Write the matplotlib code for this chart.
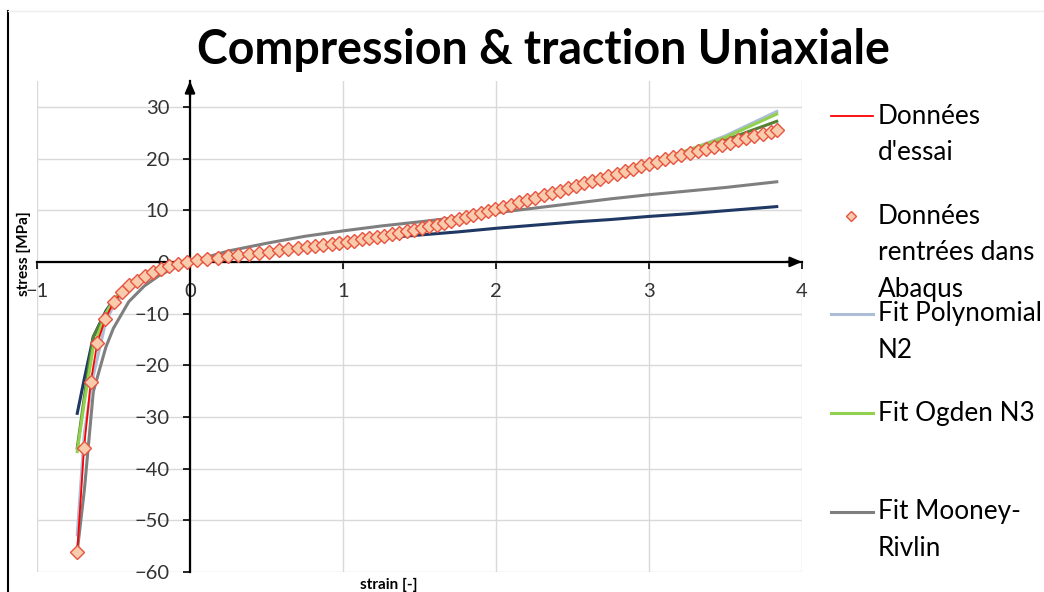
import matplotlib
matplotlib.use('Agg')
import matplotlib.pyplot as plt
from matplotlib.lines import Line2D

plt.rcParams['font.family'] = ['Lato', 'DejaVu Sans']

# ---------------- data ----------------
test_strain = [-0.737, -0.693, -0.649, -0.606, -0.553, -0.499, -0.444, -0.397, -0.349, -0.296,
               -0.244, -0.190, -0.135, -0.080, -0.020,
               0.044, 0.109, 0.185, 0.250, 0.316, 0.388, 0.453, 0.518, 0.584, 0.643,
               0.704, 0.762, 0.817, 0.871, 0.926, 0.976, 1.024, 1.074, 1.122, 1.172,
               1.220, 1.270, 1.318, 1.368, 1.416, 1.464, 1.514, 1.564, 1.612, 1.660,
               1.708, 1.756, 1.804, 1.852, 1.900, 1.948, 1.996, 2.046, 2.099, 2.152,
               2.205, 2.258, 2.311, 2.364, 2.417, 2.470, 2.523, 2.576, 2.629, 2.682,
               2.735, 2.788, 2.841, 2.894, 2.947, 3.000, 3.053, 3.106, 3.159, 3.212,
               3.265, 3.318, 3.371, 3.424, 3.477, 3.530, 3.583, 3.636, 3.689, 3.742,
               3.795, 3.835]
test_stress = [-56.1, -36.1, -23.3, -15.7, -11.0, -7.8, -5.9, -4.45, -3.6, -2.65,
               -2.0, -1.4, -0.85, -0.4, -0.08,
               0.35, 0.6, 0.85, 1.05, 1.25, 1.55, 1.8, 2.0, 2.25, 2.45,
               2.65, 2.85, 3.05, 3.25, 3.45, 3.65, 3.85, 4.1, 4.35, 4.6,
               4.85, 5.1, 5.35, 5.65, 5.9, 6.2, 6.5, 6.85, 7.2, 7.6,
               7.95, 8.35, 8.75, 9.15, 9.5, 9.9, 10.25, 10.65, 11.1, 11.55,
               12.0, 12.45, 12.9, 13.35, 13.8, 14.25, 14.7, 15.2, 15.65, 16.1,
               16.55, 17.0, 17.5, 17.95, 18.5, 19.0, 19.4, 19.85, 20.25, 20.7,
               21.1, 21.5, 21.9, 22.3, 22.7, 23.1, 23.5, 23.9, 24.3, 24.7,
               25.1, 25.5]

fit_strain = [-0.737, -0.69, -0.632, -0.55, -0.5, -0.4, -0.3, -0.2, -0.1, 0.0,
              0.25, 0.5, 0.75, 1.0, 1.25, 1.5, 1.75, 2.0, 2.25, 2.5,
              2.75, 3.0, 3.25, 3.5, 3.835]
fit_poly_n2 = [-52.8, -33.0, -22.0, -11.5, -8.5, -5.0, -3.1, -1.7, -0.7, 0.0,
               1.0, 1.9, 2.7, 3.55, 4.6, 5.9, 7.7, 9.7, 11.8, 14.1,
               16.4, 18.9, 21.5, 24.4, 29.1]
fit_ogden_n3 = [-36.7, -27.0, -16.5, -10.0, -7.5, -4.4, -2.7, -1.5, -0.6, 0.0,
                1.0, 1.95, 2.7, 3.5, 4.6, 6.0, 7.8, 9.8, 11.9, 14.2,
                16.5, 18.9, 21.6, 24.1, 28.6]
fit_ogden_other = [-36.0, -26.0, -14.5, -9.8, -7.4, -4.4, -2.7, -1.5, -0.6, 0.0,
                   1.0, 1.95, 2.7, 3.5, 4.6, 6.0, 7.8, 9.8, 11.9, 14.2,
                   16.5, 18.8, 21.2, 23.6, 27.2]
fit_neo_hooke = [-29.3, -22.5, -14.5, -9.5, -7.4, -4.5, -2.7, -1.5, -0.6, 0.0,
                 1.0, 1.95, 2.75, 3.45, 4.6, 5.2, 5.8, 6.5, 7.1, 7.7,
                 8.2, 8.8, 9.3, 9.9, 10.7]
fit_mooney = [-56.0, -44.0, -25.1, -16.5, -12.8, -7.7, -4.7, -2.6, -1.1, 0.0,
              2.1, 3.6, 4.95, 6.0, 6.95, 7.75, 8.6, 9.5, 10.4, 11.3,
              12.2, 13.0, 13.7, 14.4, 15.5]

x_ticks = [-1, 0, 1, 2, 3, 4]
y_ticks = [-60, -50, -40, -30, -20, -10, 0, 10, 20, 30]

title = 'Compression & traction Uniaxiale'
x_label = 'strain [-]'
y_label = 'stress [MPa]'
legend_labels = ["Données\nd'essai", "Données\nrentrées dans\nAbaqus",
                 "Fit Polynomial\nN2", "Fit Ogden N3", "Fit Mooney-\nRivlin"]

# ---------------- style ----------------
C_RED = '#FF0000'
C_DIA_FACE = '#F8CBAD'
C_DIA_EDGE = '#E8533F'
C_POLY = '#ADBDD6'
C_OGDEN = '#92D050'
C_OGDEN2 = '#548235'
C_NEO = '#203864'
C_MR = '#7F7F7F'

W, H = 1044, 592
fig = plt.figure(figsize=(W / 100, H / 100), dpi=100)
fig.patch.set_facecolor('white')
ax = fig.add_axes([37 / W, 1 - 572 / H, (802 - 37) / W, (572 - 81) / H])
ax.set_xlim(-1, 4)
ax.set_ylim(-60, 35)

ax.plot(fit_strain, fit_mooney, color=C_MR, lw=2.2, zorder=3)
ax.plot(fit_strain, fit_neo_hooke, color=C_NEO, lw=2.2, zorder=3)
ax.plot(fit_strain, fit_poly_n2, color=C_POLY, lw=2.2, zorder=3)
ax.plot(fit_strain, fit_ogden_other, color=C_OGDEN2, lw=2.2, zorder=3)
ax.plot(fit_strain, fit_ogden_n3, color=C_OGDEN, lw=2.2, zorder=3)
ax.plot(test_strain, test_stress, color=C_RED, lw=1.3, zorder=4)
ax.plot(test_strain, test_stress, ls='none', marker='D', ms=7,
        mfc=C_DIA_FACE, mec=C_DIA_EDGE, mew=1.0, zorder=5)

for s in ['top', 'right']:
    ax.spines[s].set_visible(False)
ax.spines['left'].set_position(('data', 0))
ax.spines['bottom'].set_position(('data', 0))
for s in ['left', 'bottom']:
    ax.spines[s].set_color('black')
    ax.spines[s].set_linewidth(1.6)
    ax.spines[s].set_zorder(2.5)

ax.set_xticks(x_ticks)
ax.set_yticks(y_ticks)
ax.tick_params(axis='both', direction='out', length=5, width=1.2, color='black',
               labelsize=14.5, labelcolor='#333333', pad=10)
ax.grid(True, color='#D9D9D9', lw=1.0)
ax.set_axisbelow(True)

arrow = dict(arrowstyle='-|>,head_length=0.7,head_width=0.3', color='black', lw=1.6,
             shrinkA=0, shrinkB=0)
ax.annotate('', xy=(4, 0), xytext=(3.9, 0), arrowprops=arrow, annotation_clip=False, zorder=6)
ax.annotate('', xy=(0, 35), xytext=(0, 32), arrowprops=arrow, annotation_clip=False, zorder=6)

fig.text(543 / W, 1 - 64 / H, title, fontsize=33.5, fontweight='bold', ha='center', va='baseline')
fig.text(24 / W, 1 - 254 / H, y_label, rotation=90, fontsize=11, fontweight='bold',
         ha='center', va='center')
fig.text(389 / W, 1 - 585 / H, x_label, fontsize=11, fontweight='bold', ha='center', va='center')

# frame remnants
fig.add_artist(Line2D([8 / W, 8 / W], [0, 1 - 11 / H], color='black', lw=1.5))
fig.add_artist(Line2D([8 / W, 1], [1 - 11 / H, 1 - 11 / H], color='#EFEFEF', lw=1))

# legend (manual, Excel-like wrapping)
handles = [dict(color=C_RED, lw=1.3, marker=None),
           dict(marker='D'),
           dict(color=C_POLY, lw=2.2, marker=None),
           dict(color=C_OGDEN, lw=2.2, marker=None),
           dict(color=C_MR, lw=2.2, marker=None)]
first_line_y = [116, 216, 314, 413, 512]
line_step = 36.5
for h, label, y0 in zip(handles, legend_labels, first_line_y):
    yf = 1 - y0 / H
    if h['marker'] == 'D':
        fig.add_artist(Line2D([851 / W], [yf], ls='none', marker='D', ms=5,
                              mfc=C_DIA_FACE, mec=C_DIA_EDGE, mew=1.0))
    else:
        fig.add_artist(Line2D([831 / W, 873 / W], [yf, yf], color=h['color'], lw=h['lw']))
    for i, line in enumerate(label.split('\n')):
        fig.text(878 / W, 1 - (y0 + i * line_step) / H, line, fontsize=18.8,
                 ha='left', va='center', color='black')

fig.savefig('out.png', dpi=100, facecolor='white')
